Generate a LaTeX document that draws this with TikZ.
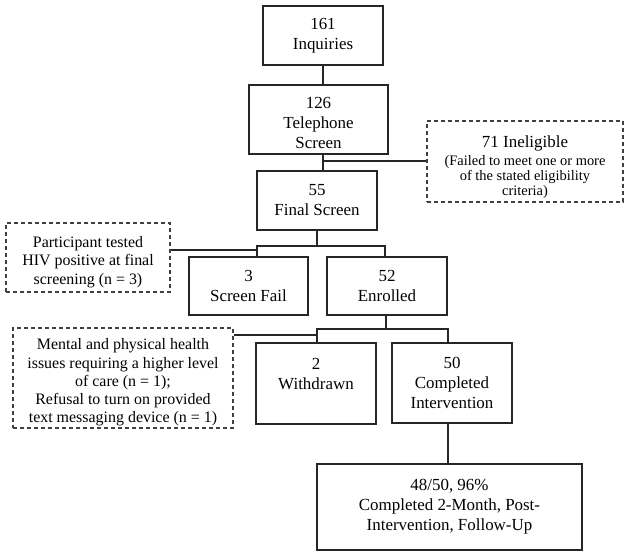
\documentclass[tikz,border=0pt]{standalone}
\usepackage{fontspec}
\setmainfont{Liberation Serif}
\begin{document}
\begin{tikzpicture}[x=1bp,y=-1bp,
  box/.style={draw=black!85, line width=1.3bp, inner sep=0pt, align=center, font=\fontsize{17}{20}\selectfont},
  dbox/.style={draw=black!75, line width=1.1bp, dash pattern=on 4bp off 3bp, inner sep=0pt, align=center, font=\fontsize{16}{18.3}\selectfont},
  conn/.style={draw=black!85, line width=1.3bp}]
\useasboundingbox[fill=white] (0,0) rectangle (629,557);

\node[box, minimum width=120bp, minimum height=59bp] (inq) at (323,35.5) {161\\Inquiries};
\node[box, minimum width=139bp, minimum height=69bp] (tel) at (318.5,119.5) {\rule{0pt}{19bp}126\\Telephone\\Screen};
\node[dbox, minimum width=196bp, minimum height=81bp, font=\fontsize{14.5}{15}\selectfont] (inel) at (525,161.5)
  {{\fontsize{17}{18}\selectfont\rule{0pt}{23bp}71 Ineligible}\\[3bp](Failed to meet one or more\\of the stated eligibility\\criteria)};
\node[box, minimum width=120bp, minimum height=59bp] (fin) at (317,200.5) {55\\Final Screen};
\node[dbox, minimum width=164bp, minimum height=69bp] (hiv) at (88,257.5) {\rule{0pt}{20bp}Participant tested\\HIV positive at final\\screening (n = 3)};
\node[box, minimum width=119bp, minimum height=58bp] (sf) at (248.5,286) {3\\Screen Fail};
\node[box, minimum width=120bp, minimum height=58bp] (enr) at (387,286) {52\\Enrolled};
\node[dbox, minimum width=220bp, minimum height=100bp] (ment) at (123,378)
  {\rule{0pt}{20bp}Mental and physical health\\issues requiring a higher level\\of care (n = 1);\\Refusal to turn on provided\\text messaging device (n = 1)};
\node[box, minimum width=120bp, minimum height=81bp] (wd) at (316,383.5) {2\\Withdrawn\\\mbox{}};
\node[box, minimum width=120bp, minimum height=80bp] (comp) at (452,383) {50\\Completed\\Intervention};
\node[box, minimum width=265bp, minimum height=86bp] (fu) at (449.5,507) {48/50, 96\%\\Completed 2-Month, Post-\\Intervention, Follow-Up};

\coordinate (j1) at (323,161);
\coordinate (j2) at (317,246);
\coordinate (j2l) at (257,246);
\coordinate (j2r) at (385,246);
\coordinate (j2h) at (257,250);
\coordinate (j3) at (386,329);
\coordinate (j3l) at (317,329);
\coordinate (j3r) at (448,329);
\coordinate (j3h) at (317,335);

\draw[conn] (inq.south -| j1) -- (tel.north -| j1);
\draw[conn] (tel.south -| j1) -- (fin.north -| j1);
\draw[conn] (j1) -- (inel.west |- j1);
\draw[conn] (fin.south -| j2) -- (j2);
\draw[conn] (sf.north -| j2l) -- (j2l) -- (j2r) -- (enr.north -| j2r);
\draw[conn] (hiv.east |- j2h) -- (j2h);
\draw[conn] (enr.south -| j3) -- (j3);
\draw[conn] (wd.north -| j3l) -- (j3l) -- (j3r) -- (comp.north -| j3r);
\draw[conn] (ment.east |- j3h) -- (j3h);
\draw[conn] (comp.south -| j3r) -- (fu.north -| j3r);
\end{tikzpicture}
\end{document}
